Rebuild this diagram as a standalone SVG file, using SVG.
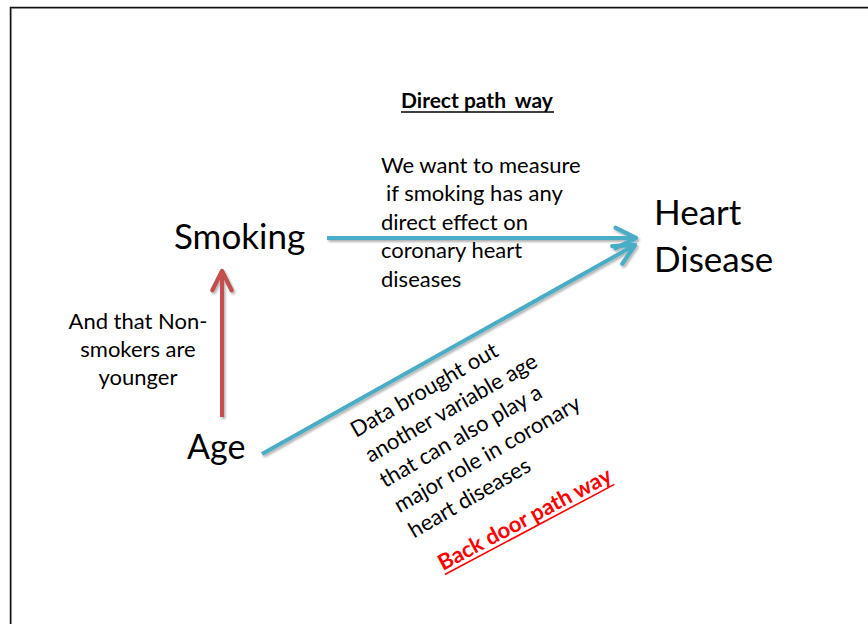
<svg xmlns="http://www.w3.org/2000/svg" width="868" height="624" viewBox="0 0 868 624">
  <style>
    .txt { font-family: Lato, "Open Sans", "Liberation Sans", sans-serif; fill: #000; }
    .body { font-size: 22px; }
    .big { font-size: 35px; }
    .title { font-size: 21px; font-weight: bold; }
    .red { font-size: 22px; font-weight: bold; fill: #ff0000; }
    .blue { stroke: #4bacc6; stroke-width: 4; fill: none; }
    .rust { stroke: #c0504d; stroke-width: 4; fill: none; }
  </style>
  <defs>
    <filter id="shadow" x="-10%" y="-10%" width="130%" height="140%">
      <feDropShadow dx="1.5" dy="2" stdDeviation="1.2" flood-color="#000" flood-opacity="0.3"/>
    </filter>
    <marker id="head-blue" markerUnits="userSpaceOnUse" markerWidth="30" markerHeight="30" viewBox="-24 -14 28 28" refX="0" refY="0" orient="auto">
      <path d="M-19,-9.5 L0,0 L-19,9.5" stroke="#4bacc6" stroke-width="4" fill="none" stroke-linejoin="round" stroke-linecap="round"/>
    </marker>
    <marker id="head-rust" markerUnits="userSpaceOnUse" markerWidth="30" markerHeight="30" viewBox="-24 -14 28 28" refX="0" refY="0" orient="auto">
      <path d="M-18,-9 L0,0 L-18,9" stroke="#c0504d" stroke-width="4" fill="none" stroke-linejoin="round" stroke-linecap="round"/>
    </marker>
  </defs>

  <rect width="868" height="624" fill="#fff"/>

  <!-- page frame -->
  <path d="M11.5,624 V8.5 H868" stroke="#b8b8b8" stroke-width="1.2" fill="none"/>
  <path d="M10.5,624 V7.5 H868" stroke="#111" stroke-width="1.5" fill="none"/>

  <!-- connectors -->
  <g id="connectors" filter="url(#shadow)">
    <line class="blue" x1="327" y1="238" x2="636" y2="238" marker-end="url(#head-blue)"/>
    <line class="blue" x1="262" y1="454" x2="635" y2="245" marker-end="url(#head-blue)"/>
    <line class="rust" x1="222" y1="417" x2="222" y2="271" marker-end="url(#head-rust)"/>
  </g>

  <!-- nodes -->
  <g id="smoking">
    <text class="txt big" x="174" y="249">Smoking</text>
  </g>
  <g id="heart-disease">
    <text class="txt big" x="654" y="225">Heart</text>
    <text class="txt big" x="654" y="272">Disease</text>
  </g>
  <g id="age">
    <text class="txt big" x="187" y="459" style="font-size:34px">Age</text>
  </g>

  <!-- annotations -->
  <g id="direct-title">
    <text class="txt title" x="401" y="108">Direct path <tspan dx="4">way</tspan></text>
    <line x1="401" y1="112" x2="554" y2="112" stroke="#000" stroke-width="1.6"/>
  </g>
  <g id="direct-note">
    <text class="txt body" x="381" y="173">We want to measure</text>
    <text class="txt body" x="386" y="201">if smoking has any</text>
    <text class="txt body" x="381" y="230">direct effect on</text>
    <text class="txt body" x="381" y="258">coronary heart</text>
    <text class="txt body" x="381" y="287">diseases</text>
  </g>
  <g id="age-note">
    <text class="txt body" x="138" y="329" text-anchor="middle">And that Non-</text>
    <text class="txt body" x="138" y="357" text-anchor="middle">smokers are</text>
    <text class="txt body" x="138" y="385" text-anchor="middle">younger</text>
  </g>
  <g id="backdoor-note" transform="translate(356,438) rotate(-30)">
    <text class="txt body" x="0" y="0">Data brought out</text>
    <text class="txt body" x="0" y="29">another variable age</text>
    <text class="txt body" x="0" y="58">that can also play a</text>
    <text class="txt body" x="0" y="87">major role in coronary</text>
    <text class="txt body" x="0" y="116">heart diseases</text>
  </g>
  <g id="backdoor-title" transform="translate(443,571) rotate(-28)">
    <text class="txt red" x="0" y="0">Back door path way</text>
    <line x1="0" y1="4" x2="192" y2="4" stroke="#ff0000" stroke-width="1.6"/>
  </g>
</svg>
